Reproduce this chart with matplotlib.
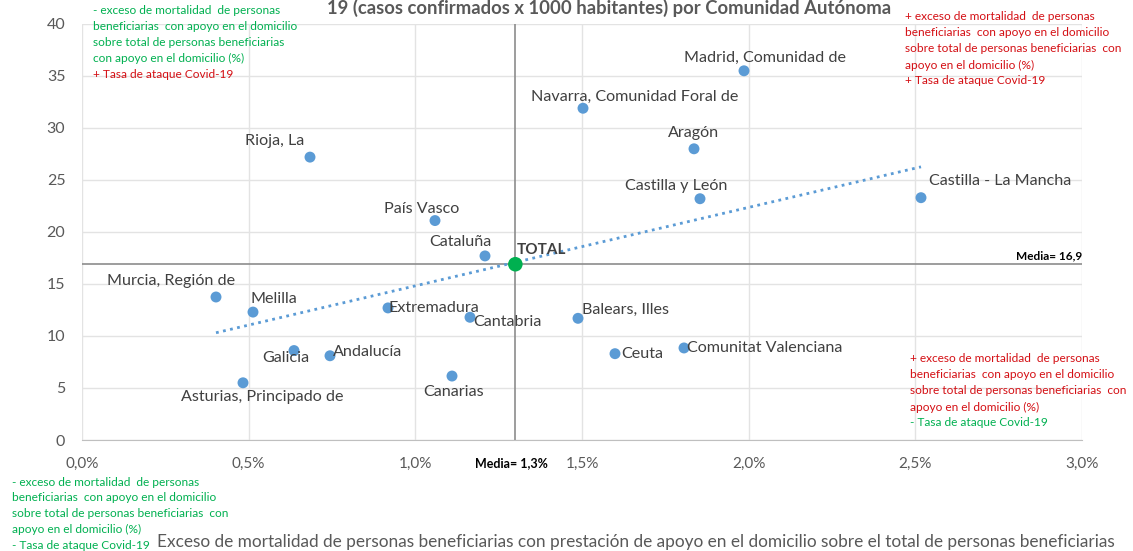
import numpy as np
import matplotlib
matplotlib.use("Agg")
import matplotlib.pyplot as plt
from matplotlib.ticker import FuncFormatter

plt.rcParams['font.family'] = ['Lato', 'DejaVu Sans']

# exceso de mortalidad (%) vs tasa de ataque Covid-19 (casos x 1000 hab.)
regiones = ["Madrid, Comunidad de", "Navarra, Comunidad Foral de", "Aragón", "Rioja, La",
            "Castilla y León", "Castilla - La Mancha", "País Vasco", "Cataluña",
            "Murcia, Región de", "Melilla", "Extremadura", "Cantabria", "Balears, Illes",
            "Galicia", "Andalucía", "Ceuta", "Comunitat Valenciana", "Canarias",
            "Asturias, Principado de"]
exceso = [1.986, 1.503, 1.836, 0.684, 1.854, 2.517, 1.059, 1.209, 0.402, 0.513,
          0.918, 1.164, 1.488, 0.636, 0.744, 1.599, 1.806, 1.110, 0.483]
tasa = [35.5, 31.9, 28.0, 27.2, 23.2, 23.3, 21.1, 17.7, 13.75, 12.3,
        12.7, 11.8, 11.7, 8.6, 8.1, 8.3, 8.85, 6.15, 5.5]
total_x = 1.30
total_y = 16.9

# label offsets in pixels (dx, dy) and alignment
offsets = {
    "Madrid, Comunidad de": (21, 13, 'center'),
    "Navarra, Comunidad Foral de": (52, 11, 'center'),
    "Aragón": (0, 16, 'center'),
    "Rioja, La": (-35, 16, 'center'),
    "Castilla y León": (-24, 13, 'center'),
    "Castilla - La Mancha": (79, 17, 'center'),
    "País Vasco": (-13, 12, 'center'),
    "Cataluña": (-25, 14, 'center'),
    "Murcia, Región de": (-45, 16, 'center'),
    "Melilla": (21, 13, 'center'),
    "Extremadura": (1, 0, 'left'),
    "Cantabria": (3, -5, 'left'),
    "Balears, Illes": (47, 8, 'center'),
    "Galicia": (-8, -7, 'center'),
    "Andalucía": (3, 4, 'left'),
    "Ceuta": (6, 0, 'left'),
    "Comunitat Valenciana": (3, 0, 'left'),
    "Canarias": (2, -16, 'center'),
    "Asturias, Principado de": (19, -14, 'center'),
}

GREEN = '#00B050'
RED = '#D40F14'
BLUE = '#5B9BD5'
GRAY = '#595959'

fig = plt.figure(figsize=(11.33, 5.51), dpi=100)
ax = fig.add_axes([82 / 1133, 1 - 440 / 551, 1000 / 1133, 416 / 551])

ax.set_xlim(0, 3.0)
ax.set_ylim(0, 40)
ax.set_xticks(np.arange(0, 3.01, 0.5))
ax.set_yticks(np.arange(0, 41, 5))
ax.xaxis.set_major_formatter(FuncFormatter(lambda v, p: f"{v:.1f}%".replace('.', ',')))
ax.grid(True, color='#E3E3E3', lw=1)
ax.set_axisbelow(True)
for s in ['top', 'right', 'left']:
    ax.spines[s].set_visible(False)
ax.spines['bottom'].set_color('#BFBFBF')
ax.tick_params(length=0, labelsize=11, labelcolor=GRAY, pad=12)
for lbl in ax.get_yticklabels():
    lbl.set_fontsize(11.5)

# trend line
coef = np.polyfit(exceso, tasa, 1)
xs = np.array([min(exceso), max(exceso)])
ax.plot(xs, np.polyval(coef, xs), ls=(0, (1, 1.6)), color=BLUE, lw=2, zorder=2)

# medias
ax.axvline(total_x, color='#8C8C8C', lw=1.2, zorder=1)
ax.axhline(total_y, color='#8C8C8C', lw=1.2, zorder=1)

ax.scatter(exceso, tasa, s=62, color=BLUE, zorder=3, edgecolors='none')
ax.scatter([total_x], [total_y], s=110, color=GREEN, zorder=4, edgecolors='none')

for name, x, y in zip(regiones, exceso, tasa):
    dx, dy, ha = offsets[name]
    ax.annotate(name, (x, y), xytext=(dx, dy), textcoords='offset pixels',
                ha=ha, va='center', fontsize=11.6, color='#404040', zorder=5)
ax.annotate("TOTAL", (total_x, total_y), xytext=(1, 14), textcoords='offset pixels',
            ha='left', va='center', fontsize=11, fontweight='bold', color='#404040')

ax.text(3.0, total_y + 0.3, "Media= 16,9", ha='right', va='bottom', fontsize=8.5,
        fontweight='bold', color='black', transform=ax.transData)
fig.text(511 / 1133, 1 - 463 / 551, "Media= 1,3%", ha='center', va='center',
         fontsize=9, fontweight='bold', color='black')

# title (first line is cut off in the original)
fig.text(609 / 1133, 1 - 8 / 551,
         "19 (casos confirmados x 1000 habitantes) por Comunidad Autónoma",
         ha='center', va='center', fontsize=13.3, fontweight='bold', color=GRAY)

# x axis title
fig.text(157 / 1133, 1 - 542 / 551,
         "Exceso de mortalidad de personas beneficiarias con prestación de apoyo en el domicilio sobre el total de personas beneficiarias",
         ha='left', va='center', fontsize=12.4, color=GRAY)

# quadrant notes
nota = ["exceso de mortalidad  de personas", "beneficiarias  con apoyo en el domicilio",
        "sobre total de personas beneficiarias", "con apoyo en el domicilio (%)"]
nota_r = ["exceso de mortalidad  de personas", "beneficiarias  con apoyo en el domicilio",
          "sobre total de personas beneficiarias  con", "apoyo en el domicilio (%)"]
covid = "Tasa de ataque Covid-19"


def note(x0, y0, lines, sign1, sign2, c1, c2, step=16, size=8.6):
    txt = [sign1 + " " + lines[0]] + lines[1:]
    for i, t in enumerate(txt):
        fig.text(x0 / 1133, 1 - (y0 + i * step) / 551, t, ha='left', va='center',
                 fontsize=size, color=c1)
    fig.text(x0 / 1133, 1 - (y0 + len(txt) * step) / 551, sign2 + " " + covid,
             ha='left', va='center', fontsize=size, color=c2)


note(93, 10, nota, "-", "+", GREEN, RED)
note(905, 17, nota_r, "+", "+", RED, RED)
note(910, 359, nota_r, "+", "-", RED, GREEN)
note(12, 482, nota_r, "-", "-", GREEN, GREEN, step=15.8)

fig.savefig("out.png", dpi=100)
